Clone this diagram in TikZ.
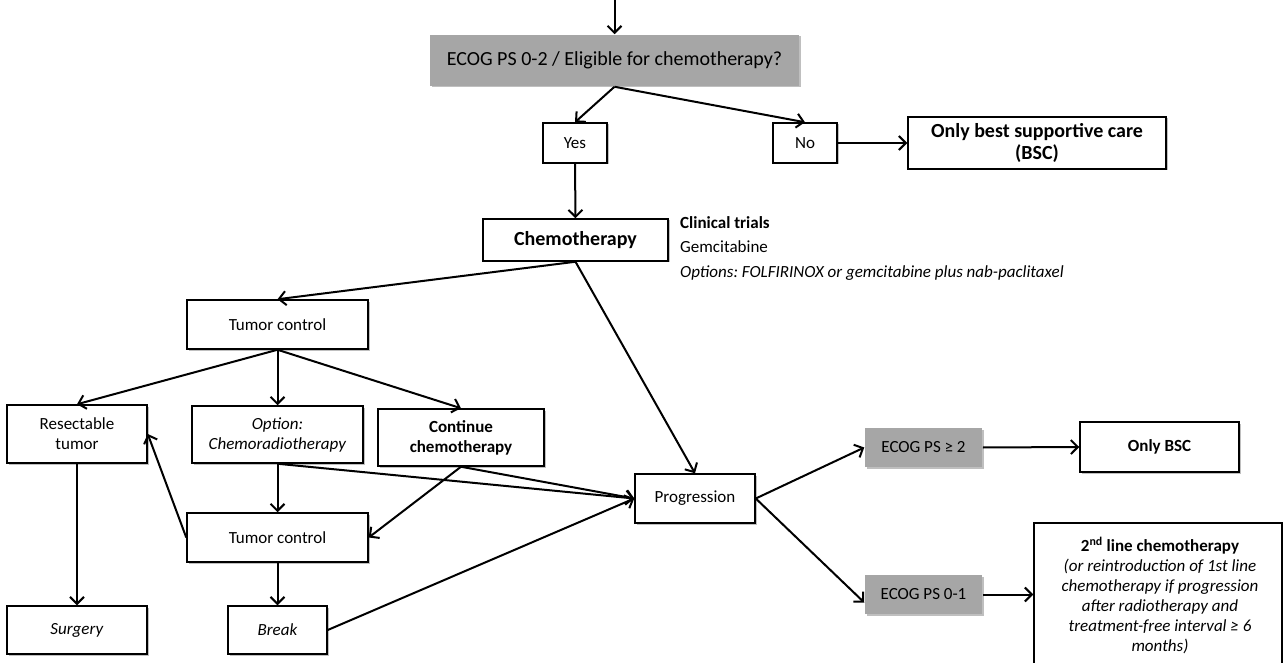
\documentclass[tikz,border=0pt]{standalone}
\usepackage{fontspec}
\setmainfont{Carlito}
\usetikzlibrary{arrows.meta,shadows,calc}
\definecolor{boxgray}{RGB}{166,166,166}
\frenchspacing
\begin{document}
\begin{tikzpicture}[x=1pt,y=-1pt,
  box/.style={draw=black, line width=1.5pt, fill=white, inner sep=0pt, align=center,
    font=\fontsize{17}{20}\selectfont,
    drop shadow={shadow xshift=1.5pt, shadow yshift=-1.5pt, opacity=0.25, fill=black}},
  gbox/.style={box, draw=none, fill=boxgray},
  arr/.style={line width=2pt, -{Straight Barb[length=7pt,width=14pt]}},
  ln/.style={line width=2pt}]
\useasboundingbox (0,0) rectangle (1283,663);
\clip (0,0) rectangle (1283,663);

% nodes
\node[gbox, minimum width=369, minimum height=51, font=\fontsize{20}{24}\selectfont] (ecog) at (614.5,60.5) {ECOG PS 0-2 / Eligible for chemotherapy?};
\node[box, minimum width=64, minimum height=40] (yes) at (575,143) {Yes};
\node[box, minimum width=64, minimum height=40] (no) at (805,143) {No};
\node[box, minimum width=258, minimum height=52, font=\fontsize{20}{22}\selectfont\bfseries] (bsc) at (1037,143) {Only best supportive care\\(BSC)};
\node[box, minimum width=185, minimum height=42, font=\fontsize{20}{24}\selectfont\bfseries] (chemo) at (575.5,240) {Chemotherapy};
\node[anchor=north west, inner sep=0pt, align=left, font=\fontsize{17}{24.5}\selectfont] (trials) at (680,216)
  {\textbf{Clinical trials}\\Gemcitabine\\\textit{Options: FOLFIRINOX or gemcitabine plus nab-paclitaxel}};
\node[box, minimum width=181, minimum height=49] (tc1) at (277.5,324.5) {Tumor control};
\node[box, minimum width=140, minimum height=58] (res) at (77,434) {Resectable\\tumor};
\node[box, minimum width=171, minimum height=57] (opt) at (277.5,434.5) {\textit{Option:}\\\textit{Chemoradiotherapy}};
\node[box, minimum width=166, minimum height=57, font=\fontsize{17}{20}\selectfont\bfseries] (cont) at (461,437.5) {Continue\\chemotherapy};
\node[box, minimum width=120, minimum height=49] (prog) at (695,498.5) {Progression};
\node[box, minimum width=181, minimum height=49] (tc2) at (277.5,537.5) {Tumor control};
\node[box, minimum width=140, minimum height=48] (surg) at (77,630) {\textit{Surgery}};
\node[box, minimum width=99, minimum height=48] (brk) at (277.5,630) {\textit{Break}};
\node[gbox, minimum width=117, minimum height=39] (e2) at (923.5,447.5) {ECOG PS ≥ 2};
\node[box, minimum width=159, minimum height=50, font=\fontsize{17}{20}\selectfont\bfseries] (obsc) at (1159.5,447) {Only BSC};
\node[gbox, minimum width=117, minimum height=39] (e01) at (923.5,594.5) {ECOG PS 0-1};
\node[box, minimum width=248, minimum height=177] (second) at (1158,611.5) {};
\node[anchor=north, inner sep=0pt, align=center, font=\fontsize{17}{20}\selectfont] (secondtxt) at (1160,537)
  {\textbf{2\textsuperscript{nd} line chemotherapy}\\
   \textit{(or reintroduction of 1st line}\\
   \textit{chemotherapy if progression}\\
   \textit{after radiotherapy and}\\
   \textit{treatment-free interval ≥ 6}\\
   \textit{months)}};

\coordinate (start) at (614.5,-5);

% connectors
\draw[arr] (start) -- (ecog.north);
\draw[arr] (ecog.south) -- (yes.north);
\draw[arr] (ecog.south) -- (no.north);
\draw[arr] (no.east) -- (bsc.west);
\draw[arr] (yes.south) -- (chemo.north);
\draw[arr] (chemo.south) -- (tc1.north);
\draw[arr] (chemo.south) -- (prog.north);
\draw[arr] (tc1.south) -- (res.north);
\draw[arr] (tc1.south) -- (opt.north);
\draw[arr] (tc1.south) -- (cont.north);
\draw[arr] (opt.south) -- (prog.west);
\draw[arr] (opt.south) -- (tc2.north);
\draw[arr] (cont.south) -- (prog.west);
\draw[arr] (cont.south) -- (tc2.east);
\draw[arr] (tc2.west) -- (res.east);
\draw[arr] (res.south) -- (surg.north);
\draw[arr] (tc2.south) -- (brk.north);
\draw[arr] (brk.east) -- (prog.west);
\draw[arr] (prog.east) -- (e2.west);
\draw[arr] (prog.east) -- ($(e01.west)+(0,8)$);
\draw[arr] (e2.east) -- (obsc.west);
\draw[arr] (e01.east) -- (e01.east -| second.west);
\end{tikzpicture}
\end{document}
